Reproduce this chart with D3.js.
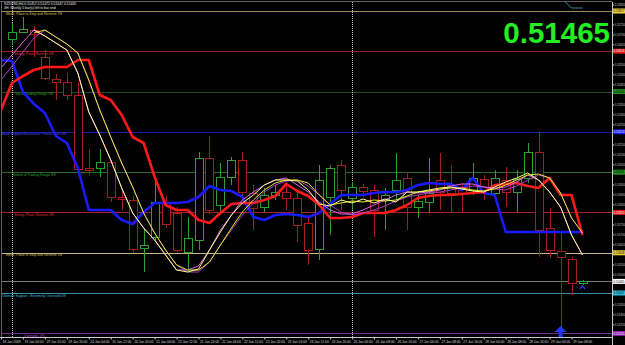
<!DOCTYPE html>
<html>
<head>
<meta charset="utf-8">
<script src="https://cdn.jsdelivr.net/npm/d3@7"></script>
<style>
html, body { margin: 0; padding: 0; background: #000; }
svg { display: block; }
text { font-family: "Liberation Sans", Arial, sans-serif; }
</style>
</head>
<body>
<svg id="chart" width="625" height="345"></svg>
<script>
// NZDUSD H4, 18 Jan - 29 Jan 2009
// time labels sit on every second bar, starting with bar -1
const timeLabels = ["18 Jan 2009", "19 Jan 04:00", "19 Jan 12:00", "19 Jan 20:00", "20 Jan 04:00",
  "20 Jan 12:00", "20 Jan 20:00", "21 Jan 04:00", "21 Jan 12:00", "21 Jan 20:00", "22 Jan 04:00",
  "22 Jan 12:00", "22 Jan 20:00", "23 Jan 04:00", "23 Jan 12:00", "23 Jan 20:00", "26 Jan 00:00",
  "26 Jan 08:00", "26 Jan 16:00", "27 Jan 00:00", "27 Jan 08:00", "27 Jan 16:00", "28 Jan 00:00",
  "28 Jan 08:00", "28 Jan 16:00", "29 Jan 00:00", "29 Jan 08:00"];
const weekStarts = [0, 31];

// candles, bars 0..52
const openP = [0.52677, 0.52712, 0.52722, 0.52587, 0.52477, 0.52462, 0.52397, 0.52032, 0.52032, 0.52062,
  0.51887, 0.51872, 0.51632, 0.51687, 0.51857, 0.51807, 0.51612, 0.51672, 0.52082, 0.51847,
  0.51987, 0.52072, 0.51907, 0.51837, 0.51897, 0.51912, 0.51882, 0.51757, 0.51627, 0.51887,
  0.52047, 0.51882, 0.51937, 0.51922, 0.51872, 0.51922, 0.51982, 0.51837, 0.51862, 0.51972,
  0.51947, 0.51937, 0.51922, 0.51977, 0.51907, 0.51972, 0.51912, 0.51982, 0.52112, 0.51732,
  0.51617, 0.51577, 0.51457];
const highP = [0.52757, 0.52787, 0.52742, 0.52622, 0.52502, 0.52507, 0.52462, 0.52127, 0.52127, 0.52072,
  0.51922, 0.51892, 0.51732, 0.51987, 0.51892, 0.51837, 0.51787, 0.52112, 0.52192, 0.52057,
  0.52087, 0.52112, 0.51947, 0.51932, 0.51947, 0.51972, 0.51912, 0.51797, 0.52047, 0.52047,
  0.52072, 0.51962, 0.51952, 0.51947, 0.51932, 0.52107, 0.52012, 0.51897, 0.52082, 0.52107,
  0.52047, 0.51957, 0.52057, 0.51997, 0.52022, 0.52037, 0.52022, 0.52157, 0.52212, 0.51832,
  0.51712, 0.51587, 0.51472];
const lowP = [0.52647, 0.52707, 0.52587, 0.52472, 0.52372, 0.52372, 0.52012, 0.51997, 0.51987, 0.51862,
  0.51822, 0.51607, 0.51512, 0.51672, 0.51732, 0.51612, 0.51522, 0.51622, 0.51802, 0.51807,
  0.51947, 0.51887, 0.51722, 0.51812, 0.51872, 0.51822, 0.51662, 0.51547, 0.51572, 0.51697,
  0.51822, 0.51822, 0.51887, 0.51687, 0.51722, 0.51872, 0.51722, 0.51782, 0.51807, 0.51822,
  0.51807, 0.51807, 0.51897, 0.51872, 0.51882, 0.51837, 0.51812, 0.51957, 0.51587, 0.51582,
  0.51222, 0.51397, 0.51447];
const closeP = [0.52712, 0.52727, 0.52702, 0.52482, 0.52462, 0.52397, 0.52027, 0.52022, 0.52062, 0.51887,
  0.51877, 0.51627, 0.51647, 0.51862, 0.51752, 0.51622, 0.51682, 0.52082, 0.51822, 0.51987,
  0.52072, 0.51912, 0.51832, 0.51897, 0.51912, 0.51882, 0.51747, 0.51622, 0.51972, 0.52032,
  0.51922, 0.51937, 0.51917, 0.51822, 0.51897, 0.51972, 0.51837, 0.51867, 0.51907, 0.51912,
  0.51907, 0.51907, 0.51982, 0.51922, 0.51982, 0.51912, 0.51977, 0.52112, 0.51722, 0.51622,
  0.51587, 0.51457, 0.51465];

// indicator lines, bars -1..52
const redLine = [0.52322, 0.52457, 0.52492, 0.52522, 0.52537, 0.52537, 0.52537, 0.52572, 0.52572, 0.52397,
  0.52372, 0.52297, 0.52187, 0.52157, 0.51987, 0.51847, 0.51822, 0.51822, 0.51772, 0.51757,
  0.51807, 0.51852, 0.51857, 0.51857, 0.51872, 0.51892, 0.51952, 0.51917, 0.51892, 0.51847,
  0.51782, 0.51782, 0.51787, 0.51807, 0.51807, 0.51807, 0.51822, 0.51847, 0.51882, 0.51892,
  0.51897, 0.51897, 0.51902, 0.51907, 0.51912, 0.51947, 0.51952, 0.51957, 0.51942, 0.51932,
  0.51982, 0.51897, 0.51897, 0.51697];
const blueLine = [0.52572, 0.52567, 0.52412, 0.52352, 0.52307, 0.52192, 0.52157, 0.52032, 0.51822, 0.51822,
  0.51822, 0.51772, 0.51752, 0.51812, 0.51857, 0.51857, 0.51857, 0.51862, 0.51887, 0.51942,
  0.51922, 0.51917, 0.51887, 0.51787, 0.51772, 0.51797, 0.51802, 0.51797, 0.51787, 0.51807,
  0.51852, 0.51897, 0.51897, 0.51897, 0.51907, 0.51912, 0.51912, 0.51922, 0.51947, 0.51957,
  0.51952, 0.51952, 0.51922, 0.51982, 0.51907, 0.51897, 0.51712, 0.51712, 0.51712, 0.51712,
  0.51712, 0.51712, 0.51712, 0.51712];
const magentaFast = [0.52532, 0.52597, 0.52662, 0.52722, 0.52692, 0.52657, 0.52622, 0.52507, 0.52312, 0.52197,
  0.52072, 0.51932, 0.51807, 0.51732, 0.51672, 0.51597, 0.51522, 0.51522, 0.51542, 0.51622,
  0.51722, 0.51797, 0.51872, 0.51912, 0.51947, 0.51972, 0.51982, 0.51947, 0.51912, 0.51862,
  0.51822, 0.51802, 0.51802, 0.51822, 0.51847, 0.51872, 0.51897, 0.51912, 0.51907, 0.51912,
  0.51922, 0.51942, 0.51952, 0.51952, 0.51937, 0.51932, 0.51937, 0.51962, 0.51997, 0.51972,
  0.51912, 0.51837, 0.51697, 0.51597];
const magentaSlow = [0.52472, 0.52542, 0.52612, 0.52682, 0.52722, 0.52687, 0.52652, 0.52607, 0.52472, 0.52322,
  0.52187, 0.52057, 0.51937, 0.51807, 0.51707, 0.51622, 0.51547, 0.51512, 0.51512, 0.51562,
  0.51647, 0.51722, 0.51797, 0.51857, 0.51912, 0.51947, 0.51967, 0.51972, 0.51942, 0.51897,
  0.51847, 0.51812, 0.51797, 0.51807, 0.51822, 0.51842, 0.51867, 0.51887, 0.51897, 0.51907,
  0.51912, 0.51922, 0.51932, 0.51942, 0.51937, 0.51927, 0.51922, 0.51942, 0.51972, 0.51997,
  0.51982, 0.51907, 0.51782, 0.51707];
// yellow pair starts at bar 2
const yellowFast = [0.52722, 0.52692, 0.52657, 0.52622, 0.52507, 0.52312, 0.52197, 0.52072, 0.51932, 0.51807,
  0.51732, 0.51672, 0.51597, 0.51522, 0.51512, 0.51527, 0.51622, 0.51712, 0.51797, 0.51857,
  0.51897, 0.51947, 0.51972, 0.51972, 0.51967, 0.51922, 0.51852, 0.51842, 0.51872, 0.51857,
  0.51877, 0.51857, 0.51877, 0.51862, 0.51912, 0.51912, 0.51922, 0.51932, 0.51937, 0.51927,
  0.51917, 0.51912, 0.51937, 0.51962, 0.51982, 0.52007, 0.51972, 0.51912, 0.51837, 0.51697,
  0.51597];
const yellowSlow = [0.52707, 0.52722, 0.52687, 0.52652, 0.52607, 0.52472, 0.52322, 0.52187, 0.52057, 0.51937,
  0.51807, 0.51707, 0.51622, 0.51547, 0.51522, 0.51522, 0.51562, 0.51647, 0.51732, 0.51812,
  0.51872, 0.51922, 0.51957, 0.51972, 0.51972, 0.51957, 0.51897, 0.51847, 0.51857, 0.51867,
  0.51862, 0.51872, 0.51867, 0.51872, 0.51892, 0.51912, 0.51917, 0.51927, 0.51932, 0.51932,
  0.51922, 0.51917, 0.51927, 0.51947, 0.51972, 0.51997, 0.52002, 0.51982, 0.51907, 0.51782,
  0.51707];
// short teal segment at the top right, bars 50..52
const tealLine = [0.52887, 0.52832, 0.52832];

// Murrey Math levels
const levelPrices = [0.52817, 0.52616, 0.52414, 0.52213, 0.52011, 0.51810, 0.51608, 0.51407, 0.51205];
const levelNames = ["Weak, Place to Stop and Reverse  7/8", "Strong, Pivot, Reverse  6/8",
  "Top of Trading Range  5/8", "Major Support/Resistance Pivotal Point  4/8",
  "Bottom of Trading Range  3/8", "Strong, Pivot, Reverse  2/8",
  "Weak, Place to Stop and Reverse  1/8", "Ultimate Support - Extremely Oversold  0/8",
  "Oversold  -1/8"];
const bidPrice = 0.51465;
const titleLines = ["NZDUSD,H4  0.51457 0.51472 0.51447 0.51465",
  "4H: Weekly 5 bar(s) left to bar end"];

// styles
const levelLine = ["#a08c58", "#9a1c1c", "#1e4d1e", "#1c1cb0", "#2a6a2a", "#aa2020", "#c4b482", "#3c8ca8", "#702a88"];
const levelText = ["#d8c060", "#e03030", "#30a030", "#4848ff", "#30a030", "#e03030", "#d8c060", "#40b8d8", "#b040d0"];
const levelBg = ["#f0d040", "#e01818", "#209020", "#1818f0", "#209020", "#e01818", "#f0d040", "#30c0e0", "#9020b0"];
const levelBgText = ["#000", "#fff", "#000", "#fff", "#000", "#fff", "#000", "#000", "#fff"];
const bull = "#2e9e2e", bear = "#a81c1c";

const W = 625, H = 345;
const plot = { left: 2, right: 612, top: 2, bottom: 337 };
const svg = d3.select("#chart");

const x = d3.scaleLinear().domain([0, 52]).range([12, 582.5]);
const y = d3.scaleLinear().domain([0.52872, 0.51147]).range([0, 345]);
const px = v => Math.round(x(v)) + 0.5;
const py = v => Math.round(y(v)) + 0.5;

svg.append("rect").attr("width", W).attr("height", H).attr("fill", "#000");

svg.append("defs").append("clipPath").attr("id", "plotclip")
  .append("rect").attr("x", plot.left).attr("y", plot.top)
  .attr("width", plot.right - plot.left).attr("height", plot.bottom - plot.top);

const g = svg.append("g").attr("clip-path", "url(#plotclip)");

// Murrey lines + captions
levelPrices.forEach((p, i) => {
  g.append("line").attr("x1", plot.left).attr("x2", plot.right)
    .attr("y1", py(p)).attr("y2", py(p))
    .attr("stroke", levelLine[i]).attr("stroke-width", 1);
  g.append("text").attr("x", x(2)).attr("y", y(p) + 3.6)
    .attr("text-anchor", "middle").attr("font-size", 3.4)
    .attr("fill", levelText[i]).text(levelNames[i]);
});

// bid line
g.append("line").attr("x1", plot.left).attr("x2", plot.right)
  .attr("y1", py(bidPrice)).attr("y2", py(bidPrice))
  .attr("stroke", "#7a7a7a").attr("stroke-width", 1);

// period separators
g.selectAll(".sep").data(weekStarts).enter().append("line")
  .attr("x1", d => px(d)).attr("x2", d => px(d))
  .attr("y1", plot.top).attr("y2", plot.bottom)
  .attr("stroke", "#c8c8c8").attr("stroke-width", 1).attr("stroke-dasharray", "1,1");

// candles
const candles = openP.map((o, i) => ({ i, o, h: highP[i], l: lowP[i], c: closeP[i] }));
const cg = g.append("g");
candles.forEach(d => {
  const col = d.c >= d.o ? bull : bear;
  const top = Math.round(y(Math.max(d.o, d.c))), bot = Math.round(y(Math.min(d.o, d.c)));
  const cx = px(d.i);
  cg.append("line").attr("x1", cx).attr("x2", cx)
    .attr("y1", Math.round(y(d.h))).attr("y2", top).attr("stroke", col);
  cg.append("line").attr("x1", cx).attr("x2", cx)
    .attr("y1", bot).attr("y2", Math.round(y(d.l))).attr("stroke", col);
  cg.append("rect").attr("x", cx - 4).attr("y", top + 0.5)
    .attr("width", 8).attr("height", Math.max(1, bot - top))
    .attr("fill", "#000").attr("stroke", col).attr("stroke-width", 1);
});

// indicator lines
function series(arr, start) {
  return arr.map((v, k) => ({ i: start + k, v }));
}
const line = d3.line().x(d => x(d.i)).y(d => y(d.v));
const drawLine = (data, color, width) => g.append("path").datum(data)
  .attr("d", line).attr("fill", "none").attr("stroke", color)
  .attr("stroke-width", width).attr("stroke-linejoin", "round");

drawLine(series(blueLine, -1), "#1a1aff", 2.6);
drawLine(series(redLine, -1), "#ff1a1a", 2.6);
drawLine(series(magentaSlow, -1), "#b03cc0", 1);
drawLine(series(magentaFast, -1), "#e060e8", 1);
drawLine(series(yellowSlow, 2), "#e8e830", 1);
drawLine(series(yellowFast, 2), "#ffff90", 1);
drawLine(series(tealLine, 50), "#3a8aa0", 1);

// signal arrow under bar 50 and small mark under bar 52
const ax = x(50), ay = y(lowP[50]) - 4;
g.append("path")
  .attr("d", `M${ax},${ay} L${ax + 6},${ay + 6} L${ax + 2},${ay + 6} L${ax + 2},${ay + 12} L${ax - 2},${ay + 12} L${ax - 2},${ay + 6} L${ax - 6},${ay + 6} Z`)
  .attr("fill", "#2236ff");
const mx = x(52), my = y(lowP[52]) + 1;
g.append("path").attr("d", `M${mx - 2.5},${my + 3} L${mx},${my} L${mx + 2.5},${my + 3}`)
  .attr("fill", "none").attr("stroke", "#2a3cff").attr("stroke-width", 1.2);

// title
titleLines.forEach((t, k) => {
  svg.append("text").attr("x", 4).attr("y", 5 + k * 3.8)
    .attr("font-size", 3.4).attr("fill", "#e8e8e8").text(t);
});

// big bid
svg.append("text").attr("x", 610).attr("y", 43)
  .attr("text-anchor", "end").attr("font-size", 29.5).attr("font-weight", "bold")
  .attr("fill", "#22ee22").text(d3.format(".5f")(bidPrice));

// borders
svg.append("line").attr("x1", 0).attr("x2", plot.right).attr("y1", 1.5).attr("y2", 1.5)
  .attr("stroke", "#606060");
svg.append("line").attr("x1", 1.5).attr("x2", 1.5).attr("y1", 1).attr("y2", plot.bottom)
  .attr("stroke", "#606060");

// price axis; grey labels that would sit under a coloured tag are skipped
const tagPrices = levelPrices.concat([bidPrice]);
const yTicks = d3.range(0, 34).map(k => 0.5120 + k * 0.0005)
  .filter(t => tagPrices.every(p => Math.abs(y(p) - y(t)) > 5));
const ya = svg.append("g").attr("transform", `translate(${plot.right + 0.5},0)`)
  .call(d3.axisRight(y).tickValues(yTicks).tickFormat(d3.format(".5f")).tickSize(1.5).tickPadding(0.5));
ya.select(".domain").attr("stroke", "#c8c8c8").attr("d", `M0,${plot.top}V${H}`);
ya.selectAll(".tick line").attr("stroke", "#c8c8c8");
ya.selectAll(".tick text").attr("font-size", 3.0).attr("fill", "#c8c8c8")
  .attr("font-family", "Liberation Sans, Arial, sans-serif");

// coloured price tags
const tags = levelPrices.map((p, i) => ({ p, bg: levelBg[i], fg: levelBgText[i] }))
  .concat([{ p: bidPrice, bg: "#ffffff", fg: "#000" }]);
tags.forEach(t => {
  svg.append("rect").attr("x", plot.right + 1).attr("y", y(t.p) - 2.5)
    .attr("width", 12).attr("height", 5).attr("fill", t.bg);
  svg.append("text").attr("x", plot.right + 1.5).attr("y", y(t.p) + 1.1)
    .attr("font-size", 3.0).attr("fill", t.fg).text(d3.format(".5f")(t.p));
});

// time axis
const xTicks = timeLabels.map((_, k) => -1 + 2 * k);
const xa = svg.append("g").attr("transform", `translate(0,${plot.bottom + 0.5})`)
  .call(d3.axisBottom(x).tickValues(xTicks).tickFormat((d, k) => timeLabels[k]).tickSize(2).tickPadding(1));
xa.select(".domain").attr("stroke", "#c8c8c8").attr("d", `M0,0H${plot.right}`);
xa.selectAll(".tick line").attr("stroke", "#c8c8c8");
xa.selectAll(".tick text").attr("font-size", 3.3).attr("fill", "#d8d8d8")
  .attr("text-anchor", "start").attr("dx", 1)
  .attr("font-family", "Liberation Sans, Arial, sans-serif");
</script>
</body>
</html>
